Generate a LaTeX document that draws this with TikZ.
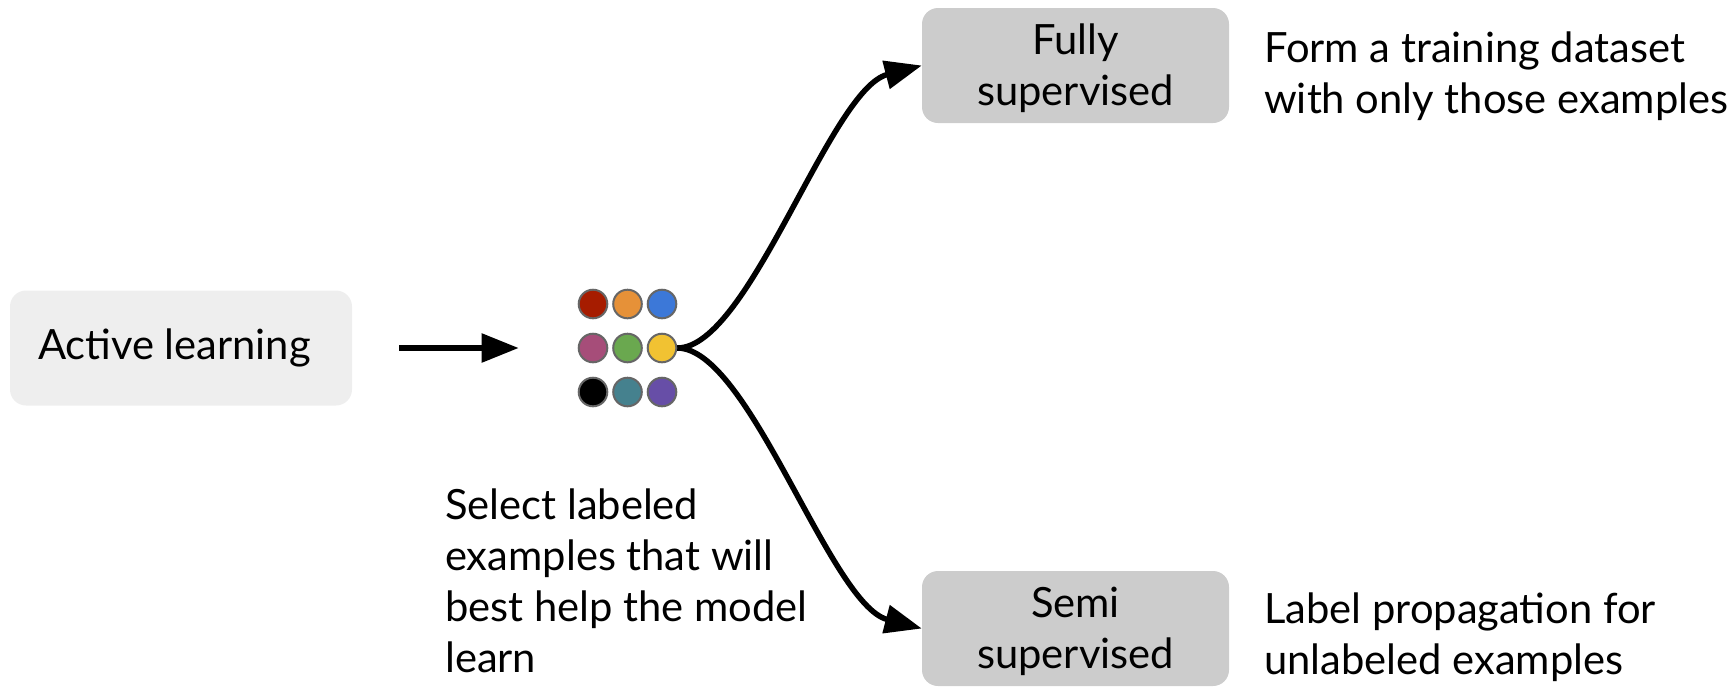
\documentclass[tikz,border=0pt]{standalone}
\usepackage{fontspec}
\setmainfont{Lato}
\usetikzlibrary{arrows.meta}
\definecolor{boxlight}{HTML}{EEEEEE}
\definecolor{boxdark}{HTML}{CCCCCC}
\definecolor{dotedge}{HTML}{666666}
\definecolor{cA}{HTML}{A61C00}
\definecolor{cB}{HTML}{E69138}
\definecolor{cC}{HTML}{3C78D8}
\definecolor{cD}{HTML}{A64D79}
\definecolor{cE}{HTML}{6AA84F}
\definecolor{cF}{HTML}{F1C232}
\definecolor{cG}{HTML}{000000}
\definecolor{cH}{HTML}{45818E}
\definecolor{cI}{HTML}{674EA7}
\begin{document}
\begin{tikzpicture}[x=1pt,y=-1pt,
  lbl/.style={font=\fontsize{41.7}{51}\selectfont, inner sep=0pt},
  stepbox/.style={lbl, rounded corners=16pt, minimum height=115pt, align=center},
  conn/.style={line width=5.5pt, -{Triangle[length=37pt,width=28pt]}},
  dot/.style={circle, minimum size=28.6pt, inner sep=0pt, draw=dotedge, line width=2pt}]
\useasboundingbox (0,0) rectangle (1736,686);
% boxes
\node[stepbox, fill=boxlight, minimum width=342pt] (active) at (181,348) {Active learning\hspace*{13pt}};
\node[stepbox, fill=boxdark, minimum width=307pt] (fully) at (1075.5,65.5) {};
\node[lbl, align=center] (fullytxt) at ([yshift=-3pt]fully.center) {Fully\\supervised};
\node[stepbox, fill=boxdark, minimum width=307pt] (semi) at (1075.5,628.5) {};
\node[lbl, align=center] (semitxt) at ([yshift=-3pt]semi.center) {Semi\\supervised};
% dots
\node[dot, fill=cA] (d11) at (593,304) {};
\node[dot, fill=cB] (d12) at (627.5,304) {};
\node[dot, fill=cC] (d13) at (662,304) {};
\node[dot, fill=cD] (d21) at (593,348) {};
\node[dot, fill=cE] (d22) at (627.5,348) {};
\node[dot, fill=cF] (d23) at (662,348) {};
\node[dot, fill=cG] (d31) at (593,392) {};
\node[dot, fill=cH] (d32) at (627.5,392) {};
\node[dot, fill=cI] (d33) at (662,392) {};
% texts
\node[lbl, anchor=west, align=left] (formtxt) at (1264,76.5) {Form a training dataset\\with only those examples};
\node[lbl, anchor=west, align=left] (labeltxt) at (1264,637) {Label propagation for\\unlabeled examples};
\node[lbl, anchor=west, align=left] (selecttxt) at (445,581) {Select labeled\\examples that will\\best help the model\\learn};
% connectors
\draw[conn, shorten <=47pt, shorten >=59pt] (active.east) -- (d21.west);
\draw[conn] (d23.east) .. controls +(72,0) and +(-92,24) .. (fully.west);
\draw[conn] (d23.east) .. controls +(72,0) and +(-92,-24) .. (semi.west);
\end{tikzpicture}
\end{document}
